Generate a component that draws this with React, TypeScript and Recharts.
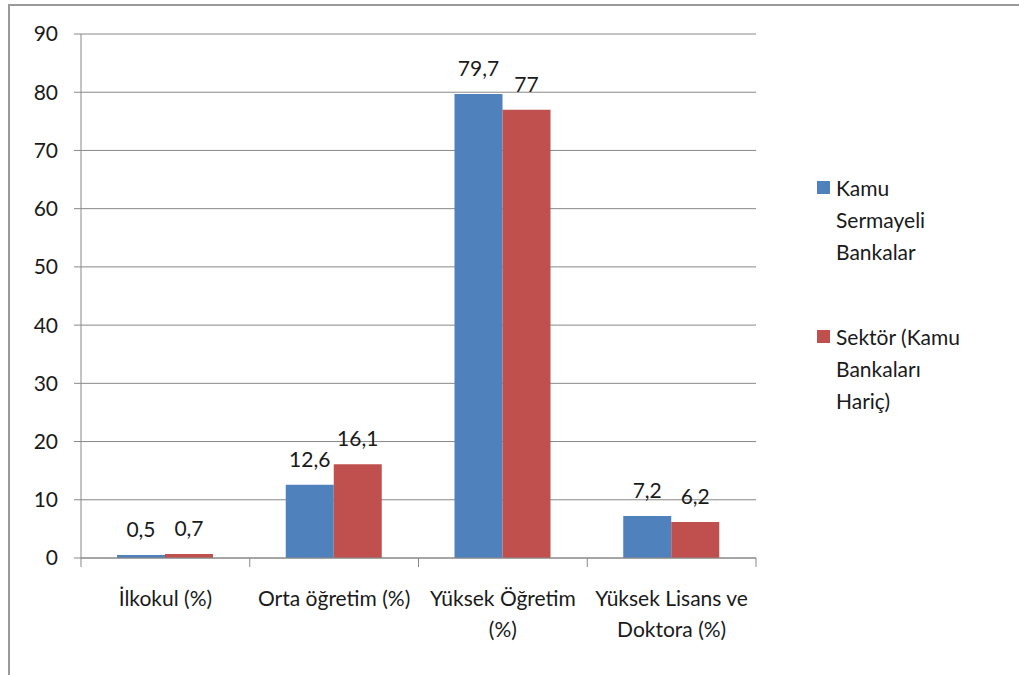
import React from "react";
import { BarChart, Bar, XAxis, YAxis, CartesianGrid, Legend, LabelList } from "recharts";

const categories = ["İlkokul (%)", "Orta öğretim (%)", "Yüksek Öğretim\n(%)", "Yüksek Lisans ve\nDoktora (%)"];
const kamu = [0.5, 12.6, 79.7, 7.2];
const sektor = [0.7, 16.1, 77, 6.2];
const seriesNames = ["Kamu Sermayeli Bankalar", "Sektör (Kamu Bankaları Hariç)"];
const yTicks = [0, 10, 20, 30, 40, 50, 60, 70, 80, 90];

const data = categories.map((c, i) => ({ name: c, kamu: kamu[i], sektor: sektor[i] }));

const FONT = "Lato, 'Open Sans', sans-serif";
const TEXT = "#1a1a1a";
const GRID = "#888888";
const BLUE = "#4F81BD";
const RED = "#C0504D";

function fmt(v: any) {
  return String(v).replace(".", ",");
}

// label in the middle of the band, tick marks on the band edges (Excel style)
function CatTick({ x, y, payload, index }: any) {
  const lines = String(payload.value).split("\n");
  const half = payload.offset || 0;
  const last = index === categories.length - 1;
  return (
    <g>
      <line x1={x - half} x2={x - half} y1={y} y2={y + 9} stroke={GRID} />
      {last && <line x1={x + half} x2={x + half} y1={y} y2={y + 9} stroke={GRID} />}
      <text x={x} y={y} textAnchor="middle" fontFamily={FONT} fontSize={21} fill={TEXT}>
        {lines.map((l, i) => (
          <tspan key={i} x={x} dy={i === 0 ? 48 : 31}>{l}</tspan>
        ))}
      </text>
    </g>
  );
}

function LegendBox({ payload }: any) {
  return (
    <div style={{ fontFamily: FONT, fontSize: 21, color: TEXT, lineHeight: "32px", textAlign: "left" }}>
      {(payload || []).map((p: any, i: number) => (
        <div key={i} style={{ display: "flex", alignItems: "flex-start", marginBottom: i === 0 ? 53 : 0 }}>
          <span style={{ width: 13, height: 13, background: p.color, marginTop: 9, marginRight: 6, flexShrink: 0 }} />
          <span style={{ width: 132 }}>{p.value}</span>
        </div>
      ))}
    </div>
  );
}

export default function App() {
  return (
    <div style={{ position: "fixed", left: 0, top: 0, width: 1019, height: 675, overflow: "hidden", background: "#fff" }}>
      <div style={{ position: "absolute", left: 8, top: 4, width: 1100, height: 800, border: "2px solid #9a9a9a", boxSizing: "border-box" }} />
      <div style={{ position: "absolute", left: 0, top: 0 }}>
        <BarChart width={1019} height={675} data={data} margin={{ top: 34, right: 263, bottom: 0, left: 8 }} barSize={48} barGap={0}>
          <CartesianGrid horizontal vertical={false} stroke={GRID} strokeWidth={1} />
          <XAxis
            dataKey="name"
            height={117}
            axisLine={{ stroke: GRID }}
            tickLine={false}
            tickSize={0}
            tickMargin={0}
            interval={0}
            tick={<CatTick />}
          />
          <YAxis
            width={73}
            domain={[0, 90]}
            ticks={yTicks}
            interval={0}
            axisLine={{ stroke: GRID }}
            tickLine={{ stroke: GRID }}
            tickSize={7}
            tickMargin={16}
            tick={{ fontFamily: FONT, fontSize: 21, fill: TEXT }}
          />
          <Legend
            layout="horizontal"
            verticalAlign="middle"
            align="center"
            content={<LegendBox />}
            wrapperStyle={{ left: 817, top: 172, width: 180 }}
          />
          <Bar dataKey="kamu" name={seriesNames[0]} fill={BLUE} isAnimationActive={false}>
            <LabelList dataKey="kamu" position="top" offset={18} formatter={fmt} style={{ fontFamily: FONT, fontSize: 21, fill: TEXT }} />
          </Bar>
          <Bar dataKey="sektor" name={seriesNames[1]} fill={RED} isAnimationActive={false}>
            <LabelList dataKey="sektor" position="top" offset={18} formatter={fmt} style={{ fontFamily: FONT, fontSize: 21, fill: TEXT }} />
          </Bar>
        </BarChart>
      </div>
    </div>
  );
}
